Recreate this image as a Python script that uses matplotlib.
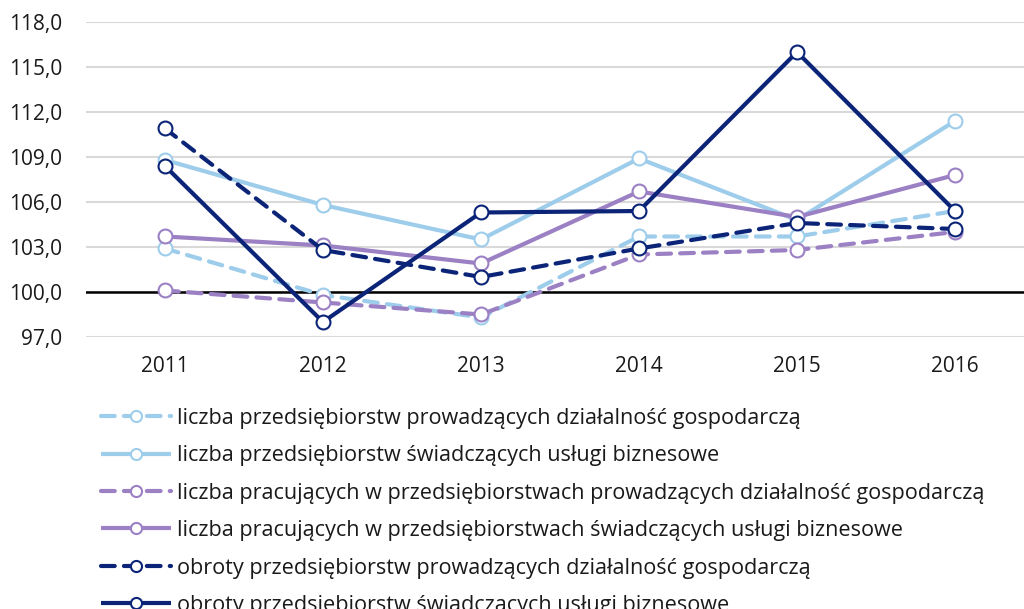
import matplotlib
matplotlib.use("Agg")
import matplotlib.pyplot as plt
from matplotlib.ticker import FuncFormatter, FixedLocator

plt.rcParams['font.family'] = ['Open Sans', 'DejaVu Sans']

years = ["2011", "2012", "2013", "2014", "2015", "2016"]

labels = [
    "liczba przedsiębiorstw prowadzących działalność gospodarczą",
    "liczba przedsiębiorstw świadczących usługi biznesowe",
    "liczba pracujących w przedsiębiorstwach prowadzących działalność gospodarczą",
    "liczba pracujących w przedsiębiorstwach świadczących usługi biznesowe",
    "obroty przedsiębiorstw prowadzących działalność gospodarczą",
    "obroty przedsiębiorstw świadczących usługi biznesowe",
]

firms_all = [102.9, 99.8, 98.3, 103.7, 103.7, 105.4]
firms_biz = [108.8, 105.8, 103.5, 108.9, 104.8, 111.4]
workers_all = [100.1, 99.3, 98.5, 102.5, 102.8, 104.0]
workers_biz = [103.7, 103.1, 101.9, 106.7, 105.0, 107.8]
turnover_all = [110.9, 102.8, 101.0, 102.9, 104.6, 104.2]
turnover_biz = [108.4, 98.0, 105.3, 105.4, 116.0, 105.4]

yticks = [97, 100, 103, 106, 109, 112, 115, 118]

series = [firms_all, firms_biz, workers_all, workers_biz, turnover_all, turnover_biz]
colors = ["#9DCDEB", "#9DCDEB", "#9B80C4", "#9B80C4", "#0B2477", "#0B2477"]
dashed = [True, False, True, False, True, False]

fig = plt.figure(figsize=(10.24, 6.09), dpi=100)
ax = fig.add_axes([86/1024, 1 - 337/609, 948/1024, 315/609])

x = list(range(len(years)))
handles = []
for vals, col, d, lab in zip(series, colors, dashed, labels):
    kw = dict(color=col, lw=3.0, marker='o', markersize=10, markerfacecolor='white',
              markeredgecolor=col, markeredgewidth=1.5, label=lab, solid_capstyle='butt',
              dash_capstyle='round')
    if d:
        kw['dashes'] = (3.3, 2.2)
    h, = ax.plot(x, vals, **kw)
    handles.append(h)

ax.axhline(100, color='black', lw=1.8, zorder=1)
ax.set_xlim(-0.5, 5.5)
ax.set_ylim(97, 118)
ax.yaxis.set_major_locator(FixedLocator(yticks))
ax.yaxis.set_major_formatter(FuncFormatter(lambda v, p: f"{v:.1f}".replace('.', ',')))
ax.set_xticks(x)
ax.set_xticklabels(years)
ax.grid(axis='y', color='#D9D9D9', lw=1.5, zorder=0)
ax.set_axisbelow(True)
for s in ax.spines.values():
    s.set_visible(False)
ax.tick_params(axis='both', length=0, labelsize=15, colors='#1a1a1a')
ax.tick_params(axis='x', pad=14)
ax.tick_params(axis='y', pad=17)

leg = fig.legend(handles=handles, loc='upper left', bbox_to_anchor=(92/1024, 1 - 399/609),
                 frameon=False, fontsize=15.6, handlelength=3.26, handletextpad=0.25,
                 labelspacing=0.76, borderaxespad=0, markerscale=0.8)
for t in leg.get_texts():
    t.set_color('#1a1a1a')

fig.savefig("out.png", dpi=100)
